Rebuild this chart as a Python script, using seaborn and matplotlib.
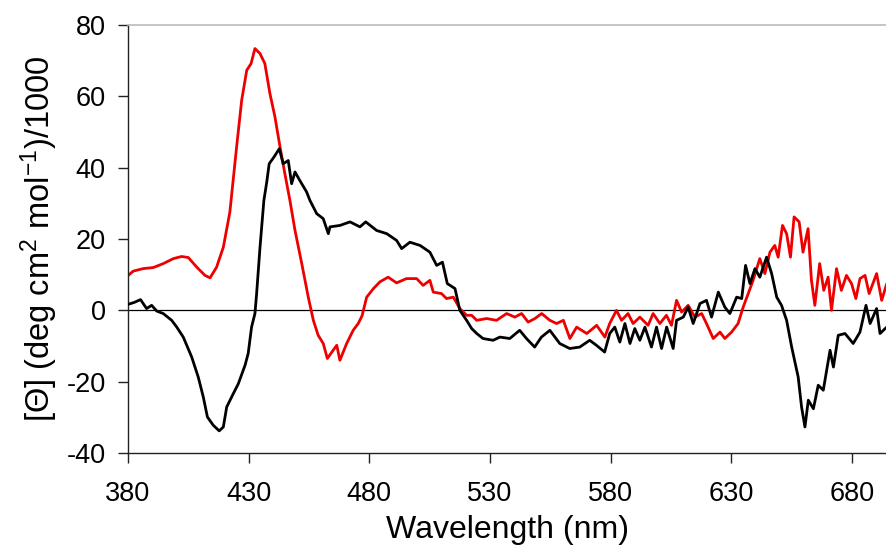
import matplotlib
matplotlib.use("Agg")
import matplotlib.pyplot as plt
import seaborn as sns
import pandas as pd

# ---- data ----
black_wl = [380.1, 382.5, 385.2, 387.7, 389.8, 391.9, 394.6, 398.1, 400.2, 402.9,
            406.4, 409.1, 411.2, 412.9, 415.3, 417.8, 419.5, 420.9, 423.6, 425.7,
            428.5, 429.8, 431.2, 432.6, 433.3, 434.7, 436.3, 437.5, 438.5, 440.5,
            442.7, 444.3, 446.4, 447.8, 449.2, 451.2, 454.0, 455.4, 458.2, 460.9,
            463.0, 463.7, 467.8, 472.0, 476.1, 478.5, 483.0, 487.2, 491.3, 493.4,
            496.8, 501.0, 505.1, 507.9, 510.3, 512.3, 515.5, 517.5, 520.3, 522.4,
            524.5, 527.1, 531.3, 534.1, 538.2, 542.3, 545.1, 548.5, 551.3, 554.8,
            558.9, 563.0, 567.2, 571.3, 574.1, 577.5, 579.6, 581.7, 583.8, 585.9,
            588.0, 590.0, 592.1, 594.2, 596.9, 599.0, 601.1, 603.2, 605.9, 607.3,
            610.1, 612.1, 614.2, 617.0, 619.7, 621.8, 624.6, 627.3, 629.4, 632.2,
            634.3, 635.9, 637.7, 639.8, 641.8, 644.6, 646.7, 648.8, 650.8, 652.9,
            655.0, 657.7, 659.1, 660.5, 661.9, 664.0, 666.0, 668.1, 670.9, 672.3,
            674.3, 677.1, 680.5, 683.3, 685.8, 687.5, 690.2, 691.6, 694.4]
black_val = [1.7, 2.2, 3.0, 0.5, 1.4, -0.2, -0.9, -2.8, -4.7, -7.5,
             -13.1, -18.7, -24.3, -29.9, -32.2, -33.8, -32.7, -27.1, -23.4, -20.6,
             -15.4, -12.1, -4.7, -0.9, 4.7, 17.7, 30.8, 36.0, 41.1, 43.0,
             45.3, 41.1, 42.0, 35.5, 38.8, 36.4, 33.2, 30.8, 27.1, 25.7,
             21.5, 23.4, 23.8, 24.8, 23.4, 24.8, 22.4, 21.5, 19.6, 17.3,
             19.1, 18.2, 16.3, 12.6, 13.5, 7.5, 6.1, 0.0, -2.8, -5.1,
             -6.5, -7.9, -8.4, -7.5, -7.9, -5.6, -7.9, -10.3, -7.5, -5.6,
             -9.3, -10.7, -10.3, -8.4, -9.8, -11.7, -6.5, -4.7, -8.9, -3.7,
             -9.3, -5.1, -8.4, -4.7, -10.3, -4.7, -10.7, -4.7, -10.7, -2.8,
             -1.9, 0.9, -3.7, 1.9, 2.8, -1.9, 5.1, 0.9, -0.9, 3.7,
             3.3, 12.6, 7.5, 11.7, 9.3, 14.9, 10.3, 3.7, 1.4, -2.8,
             -10.3, -18.7, -27.1, -32.7, -25.2, -27.6, -21.0, -22.4, -11.2, -15.9,
             -7.0, -6.5, -9.3, -6.1, 1.4, -3.7, 0.5, -6.5, -4.7]

red_wl = [380.1, 382.2, 386.3, 390.5, 394.6, 398.8, 402.2, 405.0, 408.5, 411.9,
          414.0, 416.7, 419.5, 422.2, 425.0, 427.1, 429.2, 431.0, 432.6, 434.7,
          436.7, 438.8, 440.9, 443.0, 445.0, 447.1, 449.2, 452.0, 454.7, 456.8,
          458.8, 460.9, 462.6, 465.0, 466.5, 467.8, 470.6, 473.3, 475.4, 477.0,
          478.9, 481.7, 484.4, 487.8, 491.3, 495.4, 499.6, 502.3, 505.1, 506.5,
          509.9, 512.0, 514.8, 517.5, 520.3, 522.4, 524.5, 528.6, 532.7, 536.9,
          540.3, 543.1, 545.8, 548.6, 551.4, 554.8, 557.6, 560.4, 563.1, 565.9,
          570.1, 574.2, 577.6, 579.6, 582.4, 584.5, 587.2, 589.3, 592.1, 595.5,
          597.6, 600.4, 603.1, 605.2, 607.3, 609.4, 612.1, 614.9, 617.7, 619.7,
          622.5, 625.3, 627.3, 630.1, 632.8, 634.9, 637.0, 639.0, 641.8, 643.9,
          646.0, 648.0, 649.4, 651.2, 652.9, 654.5, 656.0, 658.1, 659.7, 661.8,
          663.2, 664.6, 666.6, 668.3, 670.1, 671.5, 673.6, 675.6, 677.7, 679.8,
          681.6, 683.3, 685.4, 687.1, 690.2, 692.3, 694.4]
red_val = [9.8, 11.0, 11.7, 12.0, 13.1, 14.5, 15.1, 14.8, 12.1, 9.8,
           9.1, 12.1, 17.7, 27.5, 45.8, 58.9, 67.3, 69.2, 73.4, 72.0,
           69.2, 60.8, 54.2, 45.8, 38.3, 30.8, 22.4, 13.1, 3.7, -2.8,
           -7.0, -9.3, -13.5, -11.2, -9.8, -14.0, -9.3, -5.6, -3.7, -1.5,
           3.7, 6.1, 8.0, 9.3, 7.7, 8.9, 8.9, 7.0, 8.4, 5.1,
           4.7, 3.3, 3.7, 0.5, -1.4, -1.4, -2.8, -2.3, -2.8, -0.9,
           -1.9, -0.9, -3.3, -2.3, -0.9, -2.8, -3.7, -2.8, -7.9, -4.7,
           -6.5, -4.2, -7.5, -3.7, 0.0, -2.8, -0.9, -3.7, -1.9, -4.2,
           -0.9, -3.7, -1.4, -4.2, 2.8, -0.5, 1.4, -1.9, -0.9, -3.7,
           -7.9, -6.1, -7.9, -6.1, -3.7, 0.9, 4.7, 8.4, 14.5, 10.3,
           16.3, 18.2, 14.9, 23.8, 21.5, 14.9, 26.2, 24.8, 16.3, 22.9,
           8.4, 1.4, 13.1, 5.6, 9.3, 0.0, 11.7, 5.6, 9.8, 7.5,
           3.3, 8.9, 9.8, 4.7, 10.3, 2.8, 7.5]

x_ticks = [380, 430, 480, 530, 580, 630, 680]
y_ticks = [-40, -20, 0, 20, 40, 60, 80]

sns.set_theme(style="white")
plt.rcParams['font.family'] = ['Liberation Sans', 'DejaVu Sans']
plt.rcParams['mathtext.default'] = 'regular'
plt.rcParams['axes.unicode_minus'] = False

fig = plt.figure(figsize=(8.87, 5.45), dpi=100)
ax = fig.add_axes([128/887, 1 - 453/545, 1 - 128/887, (453 - 25)/545])

df_red = pd.DataFrame({"wl": red_wl, "val": red_val})
df_black = pd.DataFrame({"wl": black_wl, "val": black_val})

ax.axhline(0, color="black", lw=0.9, zorder=1)
sns.lineplot(data=df_red, x="wl", y="val", ax=ax, color="#ee0000", lw=2.0,
             sort=False, estimator=None, zorder=2)
sns.lineplot(data=df_black, x="wl", y="val", ax=ax, color="black", lw=2.0,
             sort=False, estimator=None, zorder=3)

ax.set_xlim(380, 694.5)
ax.set_ylim(-40, 80)
ax.set_xticks(x_ticks)
ax.set_yticks(y_ticks)

for s in ["left", "bottom"]:
    ax.spines[s].set_color("#222222")
    ax.spines[s].set_linewidth(1.0)
ax.spines["top"].set_color("#bbbbbb")
ax.spines["top"].set_linewidth(1.2)
ax.spines["right"].set_visible(False)

ax.tick_params(axis="both", direction="out", length=7, width=1.0, color="#222222",
               labelsize=19.5, labelcolor="black")
ax.tick_params(axis="x", pad=13, bottom=True)
ax.tick_params(axis="y", pad=9, left=True)

ax.set_xlabel("Wavelength (nm)", fontsize=23, labelpad=6, color="black")
ax.set_ylabel("[Θ] (deg cm$^{2}$ mol$^{-1}$)/1000", fontsize=23.5, labelpad=5,
              color="black")

fig.savefig("out.png", dpi=100)
